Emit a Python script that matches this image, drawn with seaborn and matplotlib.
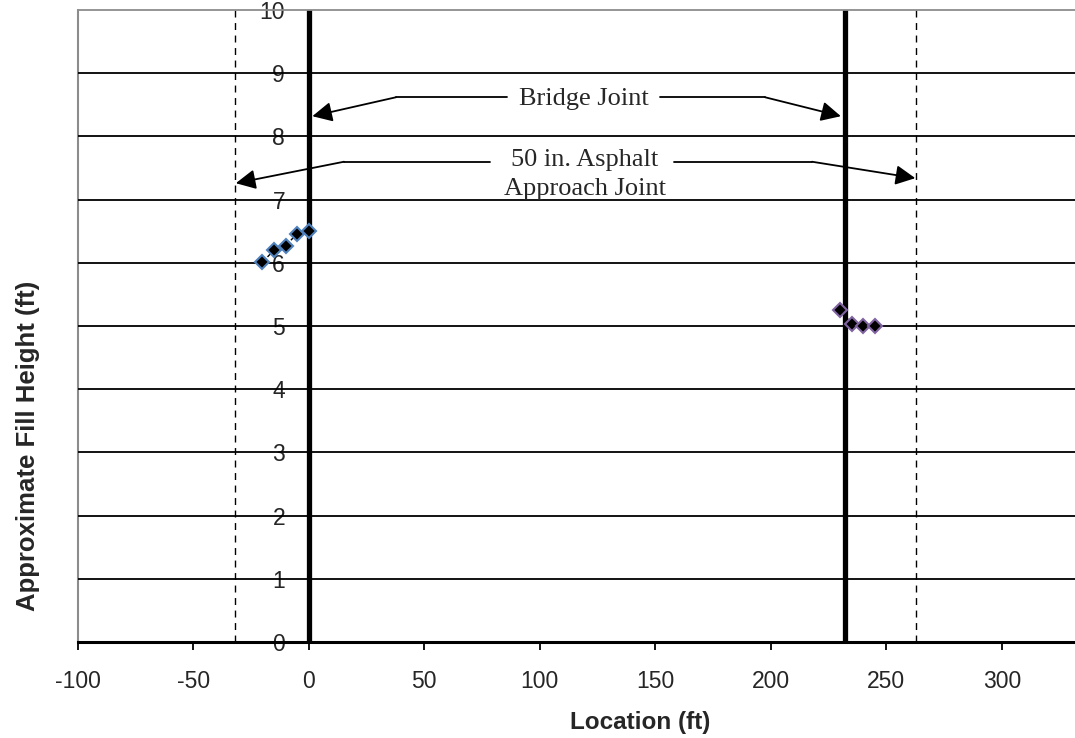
import seaborn as sns
import pandas as pd
import matplotlib.pyplot as plt

# approach fill readings
west_loc = [-20, -15, -10, -5, 0]
west_fill = [6.01, 6.20, 6.27, 6.46, 6.50]
east_loc = [230, 235, 240, 245]
east_fill = [5.25, 5.04, 5.00, 5.00]

bridge_joints = [0, 232]
approach_joints = [-32, 263]

x_ticks = [-100, -50, 0, 50, 100, 150, 200, 250, 300]
y_ticks = list(range(0, 11))

sns.set_style("white")
plt.rcParams["font.family"] = ["Liberation Sans", "DejaVu Sans"]

west = pd.DataFrame({"loc": west_loc, "fill": west_fill})
east = pd.DataFrame({"loc": east_loc, "fill": east_fill})

fig = plt.figure(figsize=(10.75, 7.38), dpi=100)
ax = fig.add_axes([0.0721, 0.130, 0.9279, 0.8564])

for y in y_ticks[1:-1]:
    ax.axhline(y, color="black", lw=1.3, zorder=1)

for xj in bridge_joints:
    ax.axvline(xj, color="black", lw=3.8, zorder=2)
for xj in approach_joints:
    ax.axvline(xj, color="black", lw=1.0, ls=(0, (5, 4)), zorder=2)

sns.lineplot(data=west, x="loc", y="fill", ax=ax, color="black", lw=1.0,
             ls="--", marker="D", markersize=7.5, markerfacecolor="black",
             markeredgecolor="#4f81bd", markeredgewidth=1.5, zorder=4)
sns.lineplot(data=east, x="loc", y="fill", ax=ax, color="black", lw=1.0,
             ls="--", marker="D", markersize=7.5, markerfacecolor="black",
             markeredgecolor="#8064a2", markeredgewidth=1.5, zorder=4)

# callouts
serif = ["Liberation Serif", "DejaVu Serif"]
ax.text(119, 8.6, "Bridge Joint", ha="center", va="center", fontsize=19, family=serif)
ax.plot([37.8, 86], [8.62, 8.62], color="black", lw=1.3)
ax.plot([152, 197.5], [8.62, 8.62], color="black", lw=1.3)
arrow = dict(arrowstyle="-|>", color="black", lw=1.3, mutation_scale=30, shrinkA=0, shrinkB=0)
ax.annotate("", xy=(1.6, 8.32), xytext=(37.8, 8.62), arrowprops=arrow)
ax.annotate("", xy=(230.3, 8.32), xytext=(197.5, 8.62), arrowprops=arrow)

ax.text(119.5, 7.40, "50 in. Asphalt\nApproach Joint", ha="center", va="center",
        fontsize=19, family=serif, linespacing=1.42)
ax.plot([15.3, 78.5], [7.6, 7.6], color="black", lw=1.3)
ax.plot([158, 217.8], [7.6, 7.6], color="black", lw=1.3)
ax.annotate("", xy=(-31.5, 7.26), xytext=(15.3, 7.6), arrowprops=arrow)
ax.annotate("", xy=(262.5, 7.34), xytext=(217.8, 7.6), arrowprops=arrow)

ax.set_xlim(-100, 331.6)
ax.set_ylim(0, 10)
ax.set_xticks(x_ticks)
ax.set_xticklabels([str(v) for v in x_ticks])
ax.set_yticks(y_ticks)
ax.set_yticklabels([str(v) for v in y_ticks])

ax.spines["left"].set_position(("data", 0))
ax.spines["left"].set_visible(False)
ax.spines["right"].set_visible(False)
ax.spines["top"].set_color("#8c8c8c")
ax.spines["top"].set_linewidth(1.3)
ax.spines["bottom"].set_color("black")
ax.spines["bottom"].set_linewidth(2.2)
ax.axvline(-100, color="#8c8c8c", lw=1.5, clip_on=False, zorder=0)

ax.tick_params(axis="x", direction="out", length=6, width=1.3, color="black",
               labelsize=16.5, pad=14, bottom=True)
ax.tick_params(axis="y", length=0, labelsize=16.5, pad=17)

ax.set_xlabel("Location (ft)", fontsize=17.5, fontweight="bold")
ax.set_ylabel("Approximate Fill Height (ft)", fontsize=18.5, fontweight="bold")
ax.xaxis.set_label_coords(0.564, -0.128)
ax.yaxis.set_label_coords(-0.050, 0.31, transform=ax.transAxes)
ax.xaxis.label.set_va("center")
ax.yaxis.label.set_va("center")

fig.savefig("out.png", dpi=100)
